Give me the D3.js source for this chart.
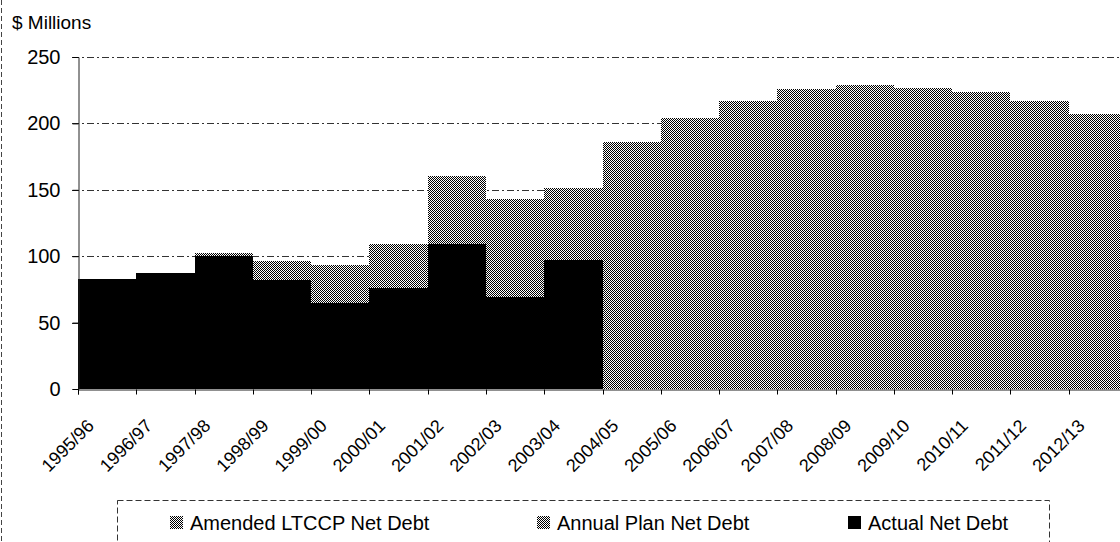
<!DOCTYPE html>
<html>
<head>
<meta charset="utf-8">
<script src="https://cdn.jsdelivr.net/npm/d3@7"></script>
<style>
  body { margin: 0; background: white; }
  #grafico svg { display: block; font-family: Arial, "Liberation Sans", sans-serif; }
</style>
</head>
<body>
<div id="grafico"></div>
<script>
// Datos
const categorias = ["1995/96", "1996/97", "1997/98", "1998/99", "1999/00", "2000/01", "2001/02", "2002/03", "2003/04",
  "2004/05", "2005/06", "2006/07", "2007/08", "2008/09", "2009/10", "2010/11", "2011/12", "2012/13"];
const ltccpModificado = [null, null, null, null, null, null, null, null, null, 186, 204, 217, 226, 229, 227, 224, 217, 207];
const planAnual = [82, 87, 102.5, 96.5, 93.5, 109, 160.5, 143, 151, null, null, null, null, null, null, null, null, null];
const deudaReal = [82.5, 87.5, 100, 82, 65, 76, 109, 69, 97, null, null, null, null, null, null, null, null, null];
const ticksY = [0, 50, 100, 150, 200, 250];
const leyenda = ["Amended LTCCP Net Debt", "Annual Plan Net Debt", "Actual Net Debt"];

const graficar = () => {

const width = 1120;
const height = 542;
const marginLeft = 78;
const plotRight = 1127;   // el area de trazado sigue un poco fuera de la imagen
const yTop = 57;
const yBottom = 389;

const xScale = d3.scaleBand()
    .domain(categorias)
    .range([marginLeft, plotRight])
    .padding(0);

const yScale = d3.scaleLinear()
    .domain([0, 250])
    .range([yBottom, yTop]);

const svg = d3.select("#grafico")
  .append("svg")
  .attr("width", width)
  .attr("height", height);

// trama de puntos (gris tramado como en el original)
const defs = svg.append("defs");
const trama = defs.append("pattern")
  .attr("id", "trama")
  .attr("width", 2)
  .attr("height", 2)
  .attr("patternUnits", "userSpaceOnUse");
trama.append("rect").attr("width", 2).attr("height", 2).attr("fill", "white");
trama.append("rect").attr("x", 0).attr("y", 0).attr("width", 1).attr("height", 1).attr("fill", "black");
trama.append("rect").attr("x", 1).attr("y", 1).attr("width", 1).attr("height", 1).attr("fill", "black");

svg.append("rect").attr("width", width).attr("height", height).attr("fill", "white");

// borde punteado del escaneo a la izquierda
svg.append("line")
  .attr("x1", 1.5).attr("x2", 1.5).attr("y1", 0).attr("y2", height)
  .attr("stroke", "#444").attr("stroke-dasharray", "5,3");

// lineas de grilla
svg.append("g")
  .selectAll("line")
  .data(ticksY.filter(d => d > 0))
  .enter()
  .append("line")
  .attr("x1", marginLeft - 6)
  .attr("x2", width)
  .attr("y1", d => Math.round(yScale(d)) + 0.5)
  .attr("y2", d => Math.round(yScale(d)) + 0.5)
  .attr("stroke", "#333")
  .attr("stroke-dasharray", "7,3,2,3");

// Barras: LTCCP, plan anual, real (encima)
const series = [
  { valores: ltccpModificado, fill: "url(#trama)" },
  { valores: planAnual, fill: "url(#trama)" },
  { valores: deudaReal, fill: "black" }
];

series.forEach(s => {
  svg.append("g")
    .attr("shape-rendering", "crispEdges")
    .selectAll("rect")
    .data(s.valores.map((v, i) => ({ cat: categorias[i], v: v })).filter(d => d.v != null))
    .enter()
    .append("rect")
    .attr("x", d => xScale(d.cat))
    .attr("y", d => yScale(d.v))
    .attr("width", xScale.bandwidth())
    .attr("height", d => yBottom - yScale(d.v))
    .attr("fill", s.fill);
});

// eje Y
const yAxis = d3.axisLeft(yScale).tickValues(ticksY).tickSize(6).tickPadding(12);
const gy = svg.append("g")
  .attr("transform", `translate(${marginLeft + 0.5},0)`)
  .call(yAxis);
gy.select(".domain").attr("stroke", "#222");
gy.selectAll("text")
  .attr("font-size", 20)
  .attr("fill", "black");

// eje X (ticks en el borde de cada categoria)
const xAxis = d3.axisBottom(xScale).tickSize(5).tickFormat("");
const gx = svg.append("g")
  .attr("transform", `translate(0,${yBottom + 0.5})`)
  .call(xAxis);
gx.selectAll(".tick").attr("transform", d => `translate(${Math.round(xScale(d)) + 0.5},0)`);
gx.select(".domain").attr("stroke", "#222");

svg.append("g")
  .selectAll("text")
  .data(categorias)
  .enter()
  .append("text")
  .attr("transform", d => `translate(${xScale(d) + 17},${yBottom + 38}) rotate(-45)`)
  .attr("text-anchor", "end")
  .attr("font-size", 18)
  .attr("fill", "black")
  .text(d => d);

// titulo del eje
svg.append("text")
  .attr("x", 12)
  .attr("y", 29)
  .attr("font-size", 19)
  .attr("fill", "black")
  .text("$ Millions");

// leyenda
svg.append("rect")
  .attr("x", 117.5)
  .attr("y", 500.5)
  .attr("width", 932)
  .attr("height", 60)
  .attr("fill", "none")
  .attr("stroke", "#333")
  .attr("stroke-dasharray", "6,3");

const posLeyenda = [170, 537, 848];
const colLeyenda = ["url(#trama)", "url(#trama)", "black"];

leyenda.forEach((t, i) => {
  svg.append("rect")
    .attr("x", posLeyenda[i])
    .attr("y", 516)
    .attr("width", 13)
    .attr("height", 13)
    .attr("fill", colLeyenda[i]);
  svg.append("text")
    .attr("x", posLeyenda[i] + 20)
    .attr("y", 530)
    .attr("font-size", 20)
    .attr("fill", "black")
    .text(t);
});
}

graficar();
</script>
</body>
</html>
